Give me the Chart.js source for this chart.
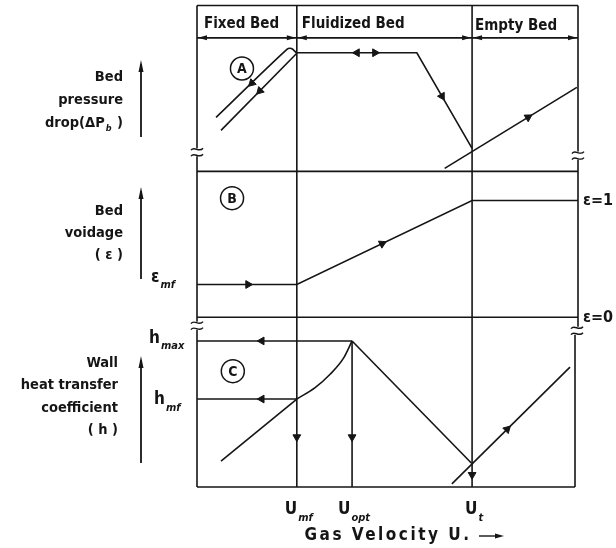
<!DOCTYPE html>
<html>
<head>
<meta charset="utf-8">
<script src="https://cdn.jsdelivr.net/npm/chart.js@4/dist/chart.umd.min.js"></script>
<style>
  html, body { margin: 0; padding: 0; background: #fff; }
  #wrap { width: 616px; height: 548px; }
</style>
</head>
<body>
<div id="wrap"><canvas id="bedChart" width="616" height="548"></canvas></div>
<script>
// gas velocity, dimensionless (box spans 0..10)
const U_MF = 2.62, U_OPT = 4.07, U_T = 7.22, U_END = 10;
const regionNames = ['Fixed Bed', 'Fluidized Bed', 'Empty Bed'];
const velocityTicks = [U_MF, U_OPT, U_T];
const velocityNames = [['U', 'mf'], ['U', 'opt'], ['U', 't']];

// panel A: bed pressure drop
const fixedUpX = [0.5, 2.36, 2.48, 2.62];
const fixedUpY = [3.25, 7.35, 7.4, 7.12];
const fixedDownX = [0.63, 2.62];
const fixedDownY = [2.47, 7.12];
const fluidX = [2.62, 5.77, 7.22];
const fluidY = [7.15, 7.15, 1.39];
const emptyAX = [6.5, 9.97];
const emptyAY = [0.18, 5.06];
const arrowsA = [[1.44, 5.32, -1, -2.2], [1.65, 4.85, -1, -2.33], [4.2, 7.15, -1, 0], [4.67, 7.15, 1, 0], [6.43, 4.53, 1, -3.97], [8.69, 3.26, 1, 1.406]];

// panel B: bed voidage
const EPS_MF = 0.28;
const voidX = [0, U_MF, U_T, U_END];
const voidY = [EPS_MF, EPS_MF, 1, 1];
const arrowsB = [[1.34, 0.28, 1, 0], [4.86, 0.63, 1, 0.1565]];

// panel C: wall heat transfer coefficient
const H_MAX = 8.6, H_MF = 5.18;
const hFixedX = [0.63, 2.62];
const hFixedY = [1.53, 5.18];
const hRiseX = [2.62, 3.1, 3.5, 3.85, 4.07];
const hRiseY = [5.18, 5.85, 6.65, 7.6, 8.6];
const hFallX = [4.07, 7.2];
const hFallY = [8.6, 1.41];
const hEmptyX = [6.69, 9.79];
const hEmptyY = [0.18, 7.06];
const arrowsC = [[1.7, 8.6, -1, 0], [1.7, 5.18, -1, 0], [2.62, 2.94, 0, -1], [4.07, 2.94, 0, -1], [7.22, 0.72, 0, -1], [8.14, 3.4, 1, 2.22]];

const INK = '#151515';
const FONT = '"DejaVu Sans Condensed", "DejaVu Sans", sans-serif';

function lineSet(label, xs, ys, axis, extra) {
    return Object.assign({
        label: label,
        yAxisID: axis,
        data: xs.map((x, i) => ({ x: x, y: ys[i] })),
        showLine: true,
        borderColor: INK,
        borderWidth: 1.6,
        pointRadius: 0,
        tension: 0
    }, extra || {});
}

function arrowSet(label, list, axis) {
    return {
        label: label,
        yAxisID: axis,
        showLine: false,
        data: list.map(a => ({ x: a[0], y: a[1], dx: a[2], dy: a[3] })),
        pointStyle: 'triangle',
        pointRadius: 4.5,
        pointBackgroundColor: INK,
        pointBorderColor: INK,
        pointBorderWidth: 1,
        pointRotation: ctx => {
            const r = ctx.raw;
            if (!r) return 0;
            const xs = ctx.chart.scales.x, ys = ctx.chart.scales[axis];
            const px = xs.getPixelForValue(r.x + r.dx * 0.1) - xs.getPixelForValue(r.x);
            const py = ys.getPixelForValue(r.y + r.dy * 0.1) - ys.getPixelForValue(r.y);
            return Math.atan2(px, -py) * 180 / Math.PI;
        }
    };
}

function txt(ctx, s, x, y, size, align) {
    ctx.font = 'bold ' + size + 'px ' + FONT;
    ctx.textAlign = align || 'left';
    ctx.textBaseline = 'middle';
    ctx.fillText(s, x, y);
}

// main letter + small subscript, x is the left edge (or centre)
function subText(ctx, main, sub, x, y, size, center) {
    ctx.font = 'bold ' + size + 'px ' + FONT;
    const w1 = ctx.measureText(main).width;
    ctx.font = 'bold italic ' + Math.round(size * 0.62) + 'px ' + FONT;
    const w2 = ctx.measureText(sub).width;
    const x0 = center ? x - (w1 + w2 + 1) / 2 : x;
    txt(ctx, main, x0, y, size);
    ctx.font = 'bold italic ' + Math.round(size * 0.62) + 'px ' + FONT;
    ctx.textAlign = 'left';
    ctx.fillText(sub, x0 + w1 + 1, y + size * 0.45);
}

function head(ctx, x, y, dir) {
    ctx.beginPath();
    ctx.moveTo(x, y);
    ctx.lineTo(x - dir * 9, y - 2.5);
    ctx.lineTo(x - dir * 9, y + 2.5);
    ctx.closePath();
    ctx.fill();
}

function breakMark(ctx, x, y) {
    ctx.save();
    ctx.fillStyle = '#fff';
    ctx.fillRect(x - 3, y - 4, 6, 8);
    ctx.lineWidth = 1.4;
    [-3, 3].forEach(o => {
        ctx.beginPath();
        ctx.moveTo(x - 6, y + o + 1);
        ctx.bezierCurveTo(x - 3, y + o - 4, x + 2, y + o + 4, x + 6, y + o - 1);
        ctx.stroke();
    });
    ctx.restore();
}

function upArrow(ctx, x, yTop, yBot) {
    ctx.beginPath();
    ctx.moveTo(x, yBot);
    ctx.lineTo(x, yTop + 4);
    ctx.stroke();
    ctx.beginPath();
    ctx.moveTo(x, yTop);
    ctx.lineTo(x - 2.5, yTop + 12);
    ctx.lineTo(x + 2.5, yTop + 12);
    ctx.closePath();
    ctx.fill();
}

const diagramPlugin = {
    id: 'diagram',
    beforeDatasetsDraw(chart) {
        const { ctx, chartArea: ca, scales } = chart;
        const sx = scales.x, sA = scales.yA, sB = scales.yB, sC = scales.yC;
        ctx.save();
        ctx.strokeStyle = INK;
        ctx.fillStyle = INK;
        ctx.lineWidth = 1.6;
        const hLine = (x1, x2, y) => { ctx.beginPath(); ctx.moveTo(x1, y); ctx.lineTo(x2, y); ctx.stroke(); };
        const vLine = (x, y1, y2) => { ctx.beginPath(); ctx.moveTo(x, y1); ctx.lineTo(x, y2); ctx.stroke(); };
        const xl = sx.getPixelForValue(0), xr = sx.getPixelForValue(U_END);
        const xm = sx.getPixelForValue(U_MF), xt = sx.getPixelForValue(U_T);
        // outer frame and phase boundaries
        hLine(xl, xr, ca.top);
        hLine(xl, xr, sA.getPixelForValue(0));
        hLine(xl, xr, sB.getPixelForValue(0));
        hLine(xl, xr - 3, sC.getPixelForValue(0));
        [xl, xm, xt].forEach(x => vLine(x, ca.top, ca.bottom));
        vLine(xr, ca.top, sB.getPixelForValue(0) + 12);
        vLine(xr - 3, sB.getPixelForValue(0) + 12, ca.bottom);
        // header with region arrows
        const yh = sA.getPixelForValue(8.05);
        hLine(xl, xr, yh);
        [[xl, xm], [xm, xt], [xt, xr]].forEach(([a, b]) => { head(ctx, a + 1, yh, -1); head(ctx, b - 1, yh, 1); });
        const yName = yh - 14;
        txt(ctx, regionNames[0], xl + 7, yName, 15);
        txt(ctx, regionNames[1], xm + 5, yName, 15);
        txt(ctx, regionNames[2], xt + 3, yName + 2, 15);
        ctx.restore();
    },
    afterDatasetsDraw(chart) {
        const { ctx, chartArea: ca, scales } = chart;
        const sx = scales.x, sA = scales.yA, sB = scales.yB, sC = scales.yC;
        ctx.save();
        ctx.strokeStyle = INK;
        ctx.fillStyle = INK;
        const xl = sx.getPixelForValue(0), xr = sx.getPixelForValue(U_END);
        // axis breaks
        breakMark(ctx, xl, sA.getPixelForValue(1.15));
        breakMark(ctx, xr, sA.getPixelForValue(0.95));
        breakMark(ctx, xl, sC.getPixelForValue(9.5));
        breakMark(ctx, xr - 1, sC.getPixelForValue(9.2));
        // circled panel letters
        [['A', sx.getPixelForValue(1.18), sA.getPixelForValue(6.2)],
         ['B', sx.getPixelForValue(0.92), sB.getPixelForValue(1.02)],
         ['C', sx.getPixelForValue(0.94), sC.getPixelForValue(6.82)]].forEach(([s, x, y]) => {
            ctx.beginPath();
            ctx.arc(x, y, 11.5, 0, Math.PI * 2);
            ctx.fillStyle = '#fff';
            ctx.fill();
            ctx.lineWidth = 1.5;
            ctx.stroke();
            ctx.fillStyle = INK;
            txt(ctx, s, x, y + 1, 14, 'center');
        });
        // left axis titles
        ctx.lineWidth = 1.8;
        const lx = 123;
        txt(ctx, 'Bed', lx, 77, 14.5, 'right');
        txt(ctx, 'pressure', lx, 100, 14.5, 'right');
        ctx.font = 'bold 14.5px ' + FONT;
        const wClose = ctx.measureText(' )').width;
        txt(ctx, ' )', lx, 123, 14.5, 'right');
        ctx.font = 'bold 9px ' + FONT;
        const wSub = ctx.measureText('b').width + 2;
        txt(ctx, 'drop(ΔP', lx - wClose - wSub, 123, 14.5, 'right');
        ctx.font = 'bold italic 9px ' + FONT;
        ctx.textAlign = 'left';
        ctx.fillText('b', lx - wClose - wSub + 1, 129);
        upArrow(ctx, 141, 60, 137);

        txt(ctx, 'Bed', lx, 211, 14.5, 'right');
        txt(ctx, 'voidage', lx, 233, 14.5, 'right');
        txt(ctx, '( ε )', lx, 255, 14.5, 'right');
        upArrow(ctx, 141, 187, 279);

        txt(ctx, 'Wall', 118, 363, 14.5, 'right');
        txt(ctx, 'heat transfer', 118, 385, 14.5, 'right');
        txt(ctx, 'coefficient', 118, 408, 14.5, 'right');
        txt(ctx, '( h )', 118, 430, 14.5, 'right');
        upArrow(ctx, 141, 356, 463);

        // level labels
        subText(ctx, 'ε', 'mf', 151, sB.getPixelForValue(EPS_MF) - 7, 17);
        subText(ctx, 'h', 'max', 149, sC.getPixelForValue(H_MAX) - 2, 17);
        subText(ctx, 'h', 'mf', 154, sC.getPixelForValue(H_MF) + 1, 17);
        txt(ctx, 'ε=1', xr + 5, sB.getPixelForValue(1), 16);
        txt(ctx, 'ε=0', xr + 5, sB.getPixelForValue(0) + 1, 16);

        // velocity labels
        const yU = ca.bottom + 23;
        velocityTicks.forEach((v, i) => {
            subText(ctx, velocityNames[i][0], velocityNames[i][1], sx.getPixelForValue(v) + 2, yU, 17, true);
        });
        const yG = ca.bottom + 49;
        ctx.letterSpacing = '2.5px';
        txt(ctx, 'Gas Velocity U.', 388, yG, 17, 'center');
        ctx.letterSpacing = '0px';
        ctx.lineWidth = 1.4;
        ctx.beginPath();
        ctx.moveTo(479, yG);
        ctx.lineTo(497, yG);
        ctx.stroke();
        head(ctx, 504, yG, 1);
        ctx.restore();
    }
};

const chart = new Chart(document.getElementById('bedChart'), {
    type: 'scatter',
    data: {
        datasets: [
            lineSet('fixed bed rising', fixedUpX, fixedUpY, 'yA', { tension: 0.3 }),
            lineSet('fixed bed falling', fixedDownX, fixedDownY, 'yA'),
            lineSet('fluidized bed', fluidX, fluidY, 'yA'),
            lineSet('empty bed', emptyAX, emptyAY, 'yA'),
            arrowSet('arrows A', arrowsA, 'yA'),
            lineSet('voidage', voidX, voidY, 'yB'),
            arrowSet('arrows B', arrowsB, 'yB'),
            lineSet('h max level', [0, U_OPT], [H_MAX, H_MAX], 'yC'),
            lineSet('h mf level', [0, U_MF], [H_MF, H_MF], 'yC'),
            lineSet('U opt drop', [U_OPT, U_OPT], [H_MAX, 0], 'yC'),
            lineSet('h fixed bed', hFixedX, hFixedY, 'yC'),
            lineSet('h rising', hRiseX, hRiseY, 'yC', { cubicInterpolationMode: 'monotone' }),
            lineSet('h falling', hFallX, hFallY, 'yC'),
            lineSet('h empty bed', hEmptyX, hEmptyY, 'yC'),
            arrowSet('arrows C', arrowsC, 'yC')
        ]
    },
    options: {
        responsive: false,
        animation: false,
        layout: { padding: { left: 197, right: 38, top: 5, bottom: 61 } },
        plugins: { legend: { display: false }, tooltip: { enabled: false } },
        scales: {
            x: { type: 'linear', min: 0, max: U_END, display: false },
            yC: { type: 'linear', min: 0, max: 10, display: false, stack: 'panels', stackWeight: 170 },
            yB: { type: 'linear', min: 0, max: 1.25, display: false, stack: 'panels', stackWeight: 146 },
            yA: { type: 'linear', min: 0, max: 10, display: false, stack: 'panels', stackWeight: 166 }
        }
    },
    plugins: [diagramPlugin]
});
</script>
</body>
</html>
